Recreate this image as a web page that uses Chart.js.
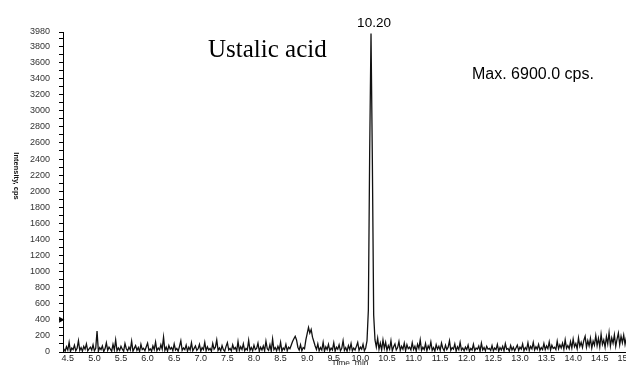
<!DOCTYPE html>
<html>
<head>
<meta charset="utf-8">
<script src="https://cdn.jsdelivr.net/npm/chart.js@4/dist/chart.umd.min.js"></script>
<style>
  html, body { margin: 0; padding: 0; background: #fff; overflow: hidden; }
  #wrap { position: relative; width: 641px; height: 372px; }
</style>
</head>
<body>
<div id="wrap"><canvas id="chrom" width="641" height="372"></canvas></div>
<script>
// Extracted ion chromatogram, one reading per scan
const scanStart = 4.425;  // min
const scanStep = 0.025;   // min per scan
const intensities = [
  40, 10, 65, 25, 120, 5, 50, 30, 85, 15, 45, 140, 20, 55, 10, 70, 35, 100, 15, 40, 60,   // 4.425
  25, 90, 15, 45, 260, 10, 55, 30, 75, 5, 40, 115, 20, 60, 35, 10, 95, 25, 150, 15,        // 4.95
  50, 20, 70, 35, 10, 105, 40, 15, 60, 25, 135, 10, 45, 80, 20, 55, 5, 95, 30, 45,         // 5.45
  15, 65, 110, 20, 40, 10, 75, 30, 125, 15, 50, 25, 90, 35, 185, 20, 60, 10, 80, 35,       // 5.95
  55, 15, 100, 25, 45, 10, 70, 140, 20, 50, 30, 85, 10, 60, 25, 115, 15, 45, 75, 20,       // 6.45
  40, 95, 10, 55, 30, 120, 15, 65, 25, 45, 10, 105, 35, 60, 150, 20, 50, 15, 80, 30,       // 6.95
  10, 70, 115, 25, 45, 15, 90, 35, 55, 10, 130, 20, 65, 30, 100, 15, 45, 25, 145, 20,      // 7.45
  55, 15, 85, 30, 45, 110, 10, 60, 25, 75, 15, 135, 40, 20, 90, 10, 160, 30, 55, 15,       // 7.95
  70, 25, 120, 10, 50, 30, 95, 15, 60, 40, 85, 130, 165, 195, 150, 60, 25, 90, 15, 55,     // 8.45
  40, 150, 230, 305, 235, 280, 185, 130, 75, 30, 100, 15, 55, 25, 120, 10, 65, 30, 95, 15, // 8.95
  50, 25, 115, 10, 60, 35, 90, 15, 45, 140, 20, 55, 10, 80, 30, 105, 15, 50, 25, 70,       // 9.45
  120, 20, 60, 35, 95, 15, 50, 140, 520, 2500, 3960, 2400, 460, 150, 60, 170, 35, 110, 25, 150, // 9.95
  45, 120, 20, 80, 35, 140, 15, 65, 100, 25, 55, 130, 20, 70, 35, 110, 15, 90, 40, 60,     // 10.45
  25, 115, 30, 70, 10, 95, 45, 150, 20, 60, 30, 105, 15, 75, 40, 125, 20, 55, 10, 90,      // 10.95
  35, 70, 20, 110, 45, 15, 85, 30, 60, 140, 20, 55, 35, 100, 10, 65, 30, 120, 25, 50,      // 11.45
  15, 60, 30, 85, 10, 45, 25, 95, 15, 50, 35, 75, 10, 110, 25, 55, 15, 70, 35, 45,         // 11.95
  20, 80, 15, 50, 30, 95, 10, 55, 25, 70, 15, 105, 35, 45, 10, 80, 25, 60, 15, 50,         // 12.45
  85, 20, 60, 35, 100, 15, 55, 30, 115, 20, 70, 40, 120, 25, 65, 35, 95, 20, 55, 30,       // 12.95
  105, 30, 75, 40, 125, 25, 85, 45, 60, 30, 135, 40, 90, 50, 110, 35, 150, 45, 80, 40,     // 13.45
  130, 50, 160, 65, 105, 40, 175, 70, 120, 55, 145, 195, 60, 140, 75, 170, 50, 135, 85, 205, // 13.95
  80, 170, 65, 220, 95, 150, 60, 190, 100, 240, 75, 175, 110, 215, 70, 160, 235, 90, 195, 115, // 14.45
  210, 95, 180, 255, 110, 200, 85, 230, 125, 270, 100, 310, 135, 220, 115                  // 14.95
];

const timeTicks = [4.5, 5.0, 5.5, 6.0, 6.5, 7.0, 7.5, 8.0, 8.5, 9.0, 9.5, 10.0,
                   10.5, 11.0, 11.5, 12.0, 12.5, 13.0, 13.5, 14.0, 14.5, 15.0];
const majorIntensityTicks = [0, 200, 400, 600, 800, 1000, 1200, 1400, 1600, 1800, 2000,
                             2200, 2400, 2600, 2800, 3000, 3200, 3400, 3600, 3800, 3980];
const minorIntensityTicks = [100, 300, 500, 700, 900, 1100, 1300, 1500, 1700, 1900, 2100,
                             2300, 2500, 2700, 2900, 3100, 3300, 3500, 3700, 3900];
const thresholdLevel = 400;

const compoundName = 'Ustalic acid';
const maxLabel = 'Max. 6900.0 cps.';
const yTitle = 'Intensity, cps';
const xTitle = 'Time, min';

const FONT = '"Liberation Sans", Arial, Helvetica, sans-serif';

const points = intensities.map((v, i) => ({
  x: Math.round((scanStart + i * scanStep) * 1000) / 1000,
  y: v
}));
// apex of the main peak, labelled with its retention time
const apex = points.reduce((a, b) => (b.y > a.y ? b : a));

const allIntensityTicks = majorIntensityTicks.concat(minorIntensityTicks).sort((a, b) => a - b);

const textLayer = {
  id: 'textLayer',
  afterDraw(chart) {
    const ctx = chart.ctx;
    const xs = chart.scales.x;
    ctx.save();
    ctx.fillStyle = '#000';
    ctx.textAlign = 'left';
    ctx.textBaseline = 'alphabetic';
    ctx.font = '25px "Liberation Serif", "Times New Roman", serif';
    ctx.fillText(compoundName, 208, 57);

    ctx.font = '16px ' + FONT;
    ctx.fillText(maxLabel, 472, 79);

    ctx.font = '13.5px ' + FONT;
    ctx.textAlign = 'center';
    ctx.fillText(apex.x.toFixed(2), xs.getPixelForValue(apex.x) + 3, 27);

    ctx.translate(16, 176);
    ctx.rotate(Math.PI / 2);
    ctx.font = 'bold 7.5px ' + FONT;
    ctx.textBaseline = 'middle';
    ctx.fillStyle = '#111';
    ctx.fillText(yTitle, 0, 0);
    ctx.restore();
  }
};

new Chart(document.getElementById('chrom'), {
  type: 'line',
  data: {
    datasets: [
      {
        data: points,
        borderColor: '#111',
        borderWidth: 1.3,
        pointRadius: 0,
        fill: false,
        tension: 0
      },
      {
        data: [{ x: 4.37, y: thresholdLevel }],
        showLine: false,
        pointStyle: 'triangle',
        rotation: 90,
        pointRadius: 3.5,
        backgroundColor: '#000',
        borderColor: '#000',
        borderWidth: 0,
        clip: false
      }
    ]
  },
  options: {
    responsive: false,
    animation: false,
    devicePixelRatio: 1,
    layout: { padding: { left: 0, right: 0, top: 32, bottom: 0 } },
    plugins: { legend: { display: false }, tooltip: { enabled: false } },
    scales: {
      x: {
        type: 'linear',
        min: 4.41,
        max: 15.2,
        afterBuildTicks: s => { s.ticks = timeTicks.map(v => ({ value: v })); },
        afterFit: s => { s.height = 20; },
        grid: { display: false, drawTicks: false },
        border: { display: true, color: '#000', width: 1 },
        ticks: {
          autoSkip: false, maxRotation: 0, minRotation: 0, padding: 1,
          color: '#222', font: { family: FONT, size: 9 },
          callback: v => Number(v).toFixed(1)
        },
        title: {
          display: true, text: xTitle, color: '#222',
          font: { family: FONT, size: 8.5 }, padding: { top: 0, bottom: 3 }
        }
      },
      y: {
        min: 0,
        max: 3980,
        afterBuildTicks: s => { s.ticks = allIntensityTicks.map(v => ({ value: v })); },
        afterFit: s => { s.width = 63; },
        grid: { display: true, drawOnChartArea: false, drawTicks: true, tickLength: 4, color: '#000', lineWidth: 1 },
        border: { display: true, color: '#000', width: 1 },
        ticks: {
          autoSkip: false, padding: 9, color: '#333', font: { family: FONT, size: 9 },
          callback: v => (majorIntensityTicks.includes(v) ? String(v) : '')
        }
      }
    }
  },
  plugins: [textLayer]
});
</script>
</body>
</html>
